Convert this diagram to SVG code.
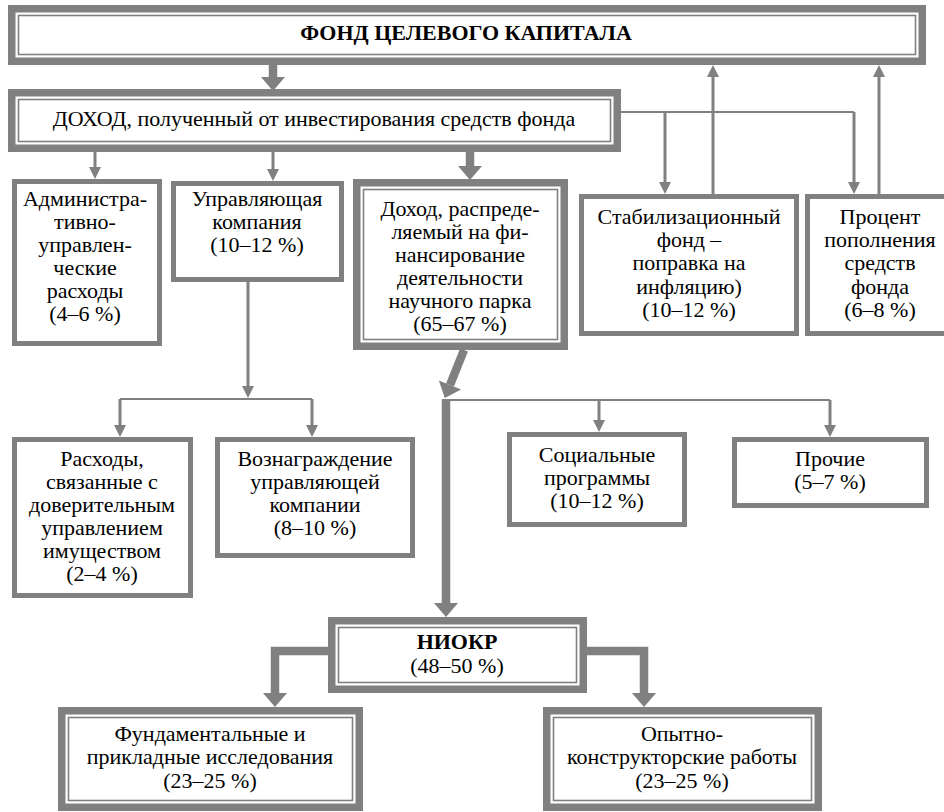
<svg xmlns="http://www.w3.org/2000/svg" width="944" height="812" viewBox="0 0 944 812">
<style>
text{font-family:'Liberation Serif','Times New Roman',serif;font-size:22px;fill:#000;text-anchor:middle}
.b{font-weight:bold}
.box{fill:#fff;stroke:#808080;stroke-width:5}
.dbl{fill:#fff;stroke:#808080;stroke-width:7.5}
.inn{fill:none;stroke:#808080;stroke-width:1.6}
.thin{fill:none;stroke:#808080;stroke-width:3}
.hair{fill:none;stroke:#808080;stroke-width:2}
.thick{fill:none;stroke:#808080;stroke-width:8.5}
</style>
<defs>
<marker id="ah" markerUnits="userSpaceOnUse" markerWidth="14" markerHeight="14" refX="0" refY="7" orient="auto" overflow="visible">
<path d="M0,1 L12,7 L0,13 Z" fill="#808080"/>
</marker>
<marker id="AH" markerUnits="userSpaceOnUse" markerWidth="16" markerHeight="26" refX="0" refY="13" orient="auto" overflow="visible">
<path d="M0,1 L14,13 L0,25 Z" fill="#808080"/>
</marker>
</defs>
<rect width="944" height="812" fill="#fff"/>

<g id="n-fund">
<rect class="dbl" x="11.75" y="8.75" width="910.5" height="52.5"/>
<rect class="inn" x="18.5" y="15.5" width="897" height="39"/>
<text class="b" x="466" y="40">ФОНД ЦЕЛЕВОГО КАПИТАЛА</text>
</g>

<g id="n-income">
<rect class="dbl" x="11.75" y="92.75" width="605.5" height="55.5"/>
<rect class="inn" x="18.5" y="99.5" width="592" height="42"/>
<text x="314" y="126">ДОХОД, полученный от инвестирования средств фонда</text>
</g>

<g id="n-admin">
<rect class="box" x="14.5" y="181.5" width="145" height="162"/>
<text x="85" y="206">Администра-</text>
<text x="85" y="229">тивно-</text>
<text x="85" y="252">управлен-</text>
<text x="85" y="275">ческие</text>
<text x="85" y="298">расходы</text>
<text x="85" y="321">(4–6 %)</text>
</g>

<g id="n-mgmt">
<rect class="box" x="173.5" y="183.5" width="168" height="96"/>
<text x="257" y="206">Управляющая</text>
<text x="257" y="229">компания</text>
<text x="257" y="252">(10–12 %)</text>
</g>

<g id="n-park">
<rect class="dbl" x="356.75" y="182.75" width="207.5" height="163.5"/>
<rect class="inn" x="363.5" y="189.5" width="194" height="150"/>
<text x="460" y="216">Доход, распреде-</text>
<text x="460" y="239">ляемый на фи-</text>
<text x="460" y="262">нансирование</text>
<text x="460" y="285">деятельности</text>
<text x="460" y="308">научного парка</text>
<text x="460" y="331">(65–67 %)</text>
</g>

<g id="n-stab">
<rect class="box" x="581.5" y="196.5" width="215" height="137"/>
<text x="689" y="224">Стабилизационный</text>
<text x="689" y="247">фонд –</text>
<text x="689" y="270">поправка на</text>
<text x="689" y="294">инфляцию)</text>
<text x="689" y="317">(10–12 %)</text>
</g>

<g id="n-replen">
<rect class="box" x="807.5" y="196.5" width="150" height="137"/>
<text x="880" y="224">Процент</text>
<text x="880" y="247">пополнения</text>
<text x="880" y="270">средств</text>
<text x="880" y="294">фонда</text>
<text x="880" y="317">(6–8 %)</text>
</g>

<g id="n-trust">
<rect class="box" x="14.5" y="439.5" width="176" height="156"/>
<text x="102" y="466">Расходы,</text>
<text x="102" y="489">связанные с</text>
<text x="102" y="512">доверительным</text>
<text x="102" y="535">управлением</text>
<text x="102" y="558">имуществом</text>
<text x="102" y="581">(2–4 %)</text>
</g>

<g id="n-fee">
<rect class="box" x="217.5" y="439.5" width="195" height="116"/>
<text x="315" y="466">Вознаграждение</text>
<text x="315" y="489">управляющей</text>
<text x="315" y="512">компании</text>
<text x="315" y="535">(8–10 %)</text>
</g>

<g id="n-social">
<rect class="box" x="509.5" y="434.5" width="175" height="90"/>
<text x="597" y="462">Социальные</text>
<text x="597" y="485">программы</text>
<text x="597" y="508">(10–12 %)</text>
</g>

<g id="n-other">
<rect class="box" x="734.5" y="439.5" width="192" height="66"/>
<text x="830" y="466">Прочие</text>
<text x="830" y="489">(5–7 %)</text>
</g>

<g id="n-rnd">
<rect class="dbl" x="331.75" y="620.75" width="251.5" height="68.5"/>
<rect class="inn" x="338.5" y="627.5" width="238" height="55"/>
<text class="b" x="457" y="649">НИОКР</text>
<text x="457" y="673">(48–50 %)</text>
</g>

<g id="n-fund-res">
<rect class="dbl" x="61.75" y="710.75" width="297.5" height="96.5"/>
<rect class="inn" x="68.5" y="717.5" width="284" height="83"/>
<text x="210" y="741">Фундаментальные и</text>
<text x="210" y="764">прикладные исследования</text>
<text x="210" y="788">(23–25 %)</text>
</g>

<g id="n-design">
<rect class="dbl" x="546.75" y="710.75" width="271.5" height="96.5"/>
<rect class="inn" x="553.5" y="717.5" width="258" height="83"/>
<text x="682" y="741">Опытно-</text>
<text x="682" y="764">конструкторские работы</text>
<text x="682" y="788">(23–25 %)</text>
</g>

<g id="connectors">
<path class="thick" d="M273,65 V77" marker-end="url(#AH)"/>
<path class="thin" d="M95,152 V167" marker-end="url(#ah)"/>
<path class="thin" d="M273,152 V169" marker-end="url(#ah)"/>
<path class="thick" d="M470,152 V166" marker-end="url(#AH)"/>
<path class="hair" d="M621,112 H854"/>
<path class="thin" d="M665,112 V182" marker-end="url(#ah)"/>
<path class="thin" d="M854,112 V182" marker-end="url(#ah)"/>
<path class="thin" d="M713,194 V77" marker-end="url(#ah)"/>
<path class="thin" d="M879,194 V77" marker-end="url(#ah)"/>
<path class="thin" d="M248,282 V386" marker-end="url(#ah)"/>
<path class="hair" d="M120,399 H312"/>
<path class="thin" d="M120,399 V425" marker-end="url(#ah)"/>
<path class="thin" d="M312,399 V425" marker-end="url(#ah)"/>
<path class="thick" d="M464,350 L450,385" marker-end="url(#AH)"/>
<path class="thick" d="M446,399 V603" marker-end="url(#AH)"/>
<path class="hair" d="M446,400 H830"/>
<path class="thin" d="M599,400 V420" marker-end="url(#ah)"/>
<path class="thin" d="M830,400 V425" marker-end="url(#ah)"/>
<path class="thick" d="M328,651 H275 V693" marker-end="url(#AH)"/>
<path class="thick" d="M587,651 H644 V693" marker-end="url(#AH)"/>
</g>
</svg>
